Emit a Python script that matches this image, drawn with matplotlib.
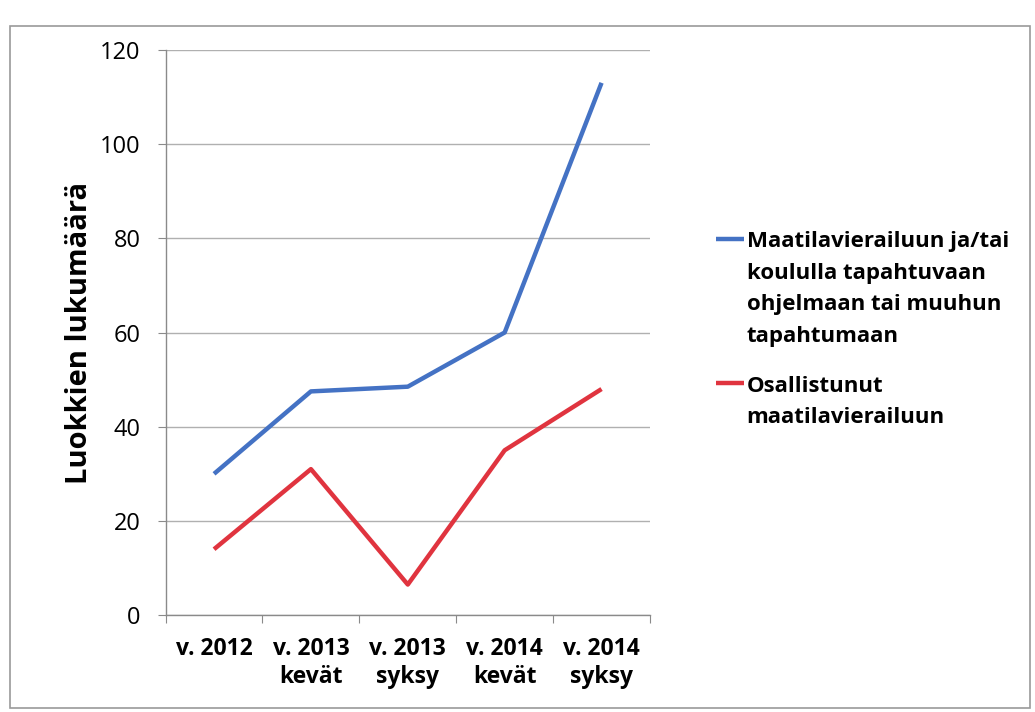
import matplotlib
matplotlib.use("Agg")
import matplotlib.pyplot as plt
from matplotlib.patches import Rectangle

categories = ["v. 2012", "v. 2013\nkevät", "v. 2013\nsyksy", "v. 2014\nkevät", "v. 2014\nsyksy"]
blue_values = [30, 47.5, 48.5, 60, 113]
red_values = [14, 31, 6.5, 35, 48]
blue_label = "Maatilavierailuun ja/tai\nkoululla tapahtuvaan\nohjelmaan tai muuhun\ntapahtumaan"
red_label = "Osallistunut\nmaatilavierailuun"
y_ticks = [0, 20, 40, 60, 80, 100, 120]

plt.rcParams['font.family'] = ['Open Sans', 'DejaVu Sans']

fig = plt.figure(figsize=(10.35, 7.12), dpi=100)
fig.patch.set_facecolor("white")
fig.patches.append(Rectangle((0.01, 0.006), 0.985, 0.958, transform=fig.transFigure,
                             fill=False, edgecolor="#9a9a9a", linewidth=1.2))

ax = fig.add_axes([0.16, 0.136, 0.468, 0.794])
x = list(range(len(categories)))
ax.plot(x, blue_values, color="#4472C4", linewidth=3.2, label=blue_label, solid_capstyle="butt")
ax.plot(x, red_values, color="#E0343F", linewidth=3.2, label=red_label, solid_capstyle="butt")

ax.set_xlim(-0.5, len(categories) - 0.5)
ax.set_ylim(0, 120)
ax.set_yticks(y_ticks)
ax.set_yticklabels([str(v) for v in y_ticks], fontsize=17)
ax.grid(axis="y", color="#b0b0b0", linewidth=1.0)
ax.set_axisbelow(True)

ax.set_xticks([i - 0.5 for i in range(len(categories) + 1)])
ax.set_xticklabels([])
ax.set_xticks(x, minor=True)
ax.set_xticklabels(categories, minor=True, fontsize=16.5, fontweight="bold", linespacing=1.2)
ax.tick_params(axis="x", which="minor", length=0, pad=16)
ax.tick_params(axis="x", which="major", length=6, color="#8a8a8a", direction="out")
ax.tick_params(axis="y", length=6, color="#8a8a8a", pad=12)

for s in ["top", "right"]:
    ax.spines[s].set_visible(False)
for s in ["left", "bottom"]:
    ax.spines[s].set_color("#8a8a8a")
    ax.spines[s].set_linewidth(1.0)

ax.set_ylabel("Luokkien lukumäärä", fontsize=21, fontweight="bold", labelpad=4)

leg = ax.legend(loc="upper left", bbox_to_anchor=(0.672, 0.703), bbox_transform=fig.transFigure,
                frameon=False, handlelength=1.3, handletextpad=0.1, labelspacing=1.3,
                prop={"size": 16, "weight": "bold"})
for t in leg.get_texts():
    t.set_linespacing(1.65)
for col in leg._legend_handle_box.get_children():
    for row in col.get_children():
        row.align = "top"

fig.savefig("out.png", dpi=100, facecolor="white")
